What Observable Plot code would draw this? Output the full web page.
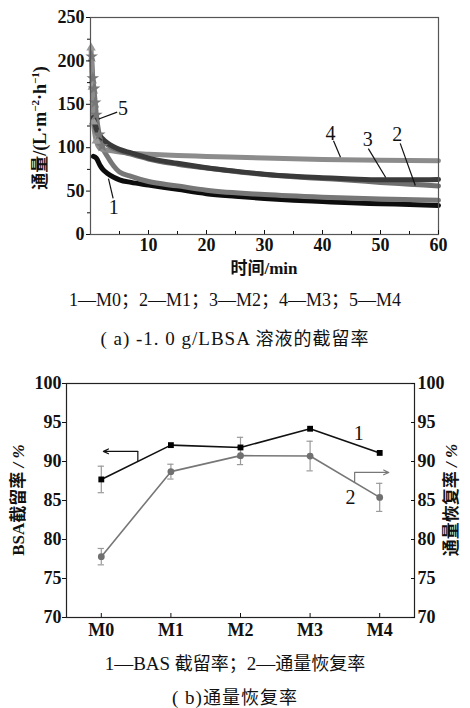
<!DOCTYPE html>
<html><head><meta charset="utf-8">
<script src="https://cdn.jsdelivr.net/npm/d3@7"></script>
<script src="https://cdn.jsdelivr.net/npm/@observablehq/plot@0.6"></script>
<style>
body{margin:0;background:#fff;}
#wrap{position:relative;width:470px;height:708px;overflow:hidden;background:#fff;font-family:"Liberation Serif","Noto Sans CJK SC",serif;color:#111;}
.cap{position:absolute;left:0;width:470px;text-align:center;font-size:19px;white-space:nowrap;line-height:20px;}
.cj{font-family:"Noto Sans CJK SC";font-size:18px;}
#a,#b{position:absolute;left:0;}
</style></head><body>
<div id="wrap">
<div id="a" style="top:0"></div>
<div class="cap" style="top:290px;font-size:18px">1—M0；2—M1；3—M2；4—M3；5—M4</div>
<div class="cap" style="top:327px;letter-spacing:1px">( a) -1. 0 g/LBSA <span class="cj">溶液的截留率</span></div>
<div id="b" style="top:360px"></div>
<div class="cap" style="top:652px">1—BAS <span class="cj">截留率；</span>2—<span class="cj">通量恢复率</span></div>
<div class="cap" style="top:686px;letter-spacing:1px">( b)<span class="cj">通量恢复率</span></div>
</div>
<script>
// ---- (a) flux vs time ----
const fluxSeries = ["1","2","3","4","5"];
const fluxColors = ["#0d0d0d","#6f6f6f","#3a3a3a","#8c8c8c","#777777"];
const t1 = [0.5,1,1.7,2,3,4,5,7,10,15,20,25,30,35,40,45,50,55,60];
const f1 = [90,88,79,76,70,66,63,60,57,52,47,44,41.5,39.5,38,36.5,35.5,34.5,33.5];
const t2 = [0.5,1,2,3,5,7,10,15,20,25,30,35,40,45,50,55,60];
const f2 = [130,119,109,103,96.5,92.5,87,81,76.5,72.5,69,66.5,64.5,62.5,60,58,56];
const t3 = [0.5,1,1.5,2,3,4,5,7,10,15,20,25,30,35,40,45,50,55,60];
const f3 = [135,122,115,111,105,101,98,94,88,82,77,73,69.5,67,65.5,64,63,63,63.5];
const t4 = [0.1,0.3,0.5,1,1.5,2,3,5,7,10,15,20,30,40,50,60];
const f4 = [215,170,130,108,100,98,97,95,93.5,92.5,91,90,88,86.5,85.5,85];
const t5 = [0.2,0.4,0.6,0.8,1,1.5,2,3,4,5,7,10,15,20,30,40,50,60];
const f5 = [205,180,168,152,138,115,102,89,79,72,67,61,56,51,46,43,41,39.5];
const fluxYTicks = [0,50,100,150,200,250];
const fluxYMinor = [25,75,125,175,225];
const fluxXTicks = [10,20,30,40,50,60];
const fluxXMinor = [5,15,25,35,45,55];
// curve labels and their leader lines
const fluxLabels = ["1","5","4","3","2"];
const fluxLabelPos = [[4.0,31],[5.6,145],[41.4,116],[47.8,109],[52.9,115]];
const fluxLeaders = [[3.9,41.5,3.1,64.5],[4.6,141,1.43,133],[41.9,108,43.1,89],[47.9,99,50.9,65.7],[53.4,105,56,56.5]];

const tArr = [t1,t2,t3,t4,t5], fArr = [f1,f2,f3,f4,f5];
const flux = [];
const drawOrder = [0,4,3,1,2];
for (const i of drawOrder) tArr[i].forEach((t,j)=>flux.push({s:fluxSeries[i], t, v:fArr[i][j]}));
const early5 = t5.slice(0,7).map((t,j)=>({t, v:f5[j]}));
const early4 = t4.slice(0,4).map((t,j)=>({t, v:f4[j]}));
const labA = fluxLabels.map((s,i)=>({s, x:fluxLabelPos[i][0], y:fluxLabelPos[i][1]}));
const leadA = fluxLeaders.map(d=>({x1:d[0],y1:d[1],x2:d[2],y2:d[3]}));

const axStyle = {fontSize:18, fontWeight:"bold"};
const plotA = Plot.plot({
  width:470, height:280, marginLeft:90, marginRight:32, marginTop:17, marginBottom:46,
  x:{domain:[0,60]}, y:{domain:[0,250]},
  color:{domain:fluxSeries, range:fluxColors},
  style:{fontFamily:"Liberation Serif", color:"#111", background:"white", overflow:"visible"},
  marks:[
    Plot.line(flux, {x:"t", y:"v", z:"s", stroke:"s", strokeWidth:5, curve:"monotone-x"}),
    Plot.dot(early4, {x:"t", y:"v", symbol:"triangle", r:3.5, fill:"#999"}),
    Plot.dot(early5, {x:"t", y:"v", symbol:"star", r:4, fill:"#777"}),
    Plot.link(leadA, {x1:"x1", y1:"y1", x2:"x2", y2:"y2", stroke:"#111", strokeWidth:1.2}),
    Plot.text(labA, {x:"x", y:"y", text:"s", fontSize:20, fill:"#111"}),
    Plot.frame({stroke:"#555", strokeWidth:1.2}),
    Plot.axisY(fluxYTicks, {anchor:"left", tickSize:4, tickPadding:2, label:null, ...axStyle}),
    Plot.axisY(fluxYMinor, {anchor:"left", tickSize:3, text:null, label:null}),
    Plot.axisX(fluxXTicks, {anchor:"bottom", tickSize:-4, tickPadding:8, label:null, ...axStyle}),
    Plot.axisX(fluxXMinor, {anchor:"bottom", tickSize:-3, text:null, label:null})
  ]
});
document.getElementById("a").appendChild(plotA);
{
  const s = d3.select(plotA);
  const yl = s.append("text").attr("transform","translate(46,128) rotate(-90)")
    .attr("text-anchor","middle").attr("font-size",18).attr("font-weight","bold")
    .attr("fill","#111").attr("font-family","Liberation Serif, Noto Sans CJK SC");
  yl.append("tspan").attr("font-family","Noto Sans CJK SC").attr("font-size",17).text("通量");
  yl.append("tspan").text("/(L·m");
  yl.append("tspan").attr("font-size",11).attr("dy",-7).text("−2");
  yl.append("tspan").attr("dy",7).text("·h");
  yl.append("tspan").attr("font-size",11).attr("dy",-7).text("−1");
  yl.append("tspan").attr("dy",7).text(")");
  const xl = s.append("text").attr("x",264).attr("y",274).attr("text-anchor","middle")
    .attr("font-size",17).attr("font-weight","bold").attr("fill","#111");
  xl.append("tspan").attr("font-family","Noto Sans CJK SC").text("时间");
  xl.append("tspan").attr("font-family","Liberation Serif").text("/min");
}

// ---- (b) retention & recovery ----
const membranes = ["M0","M1","M2","M3","M4"];
const retention = [87.7,92.1,91.8,94.2,91.1];
const retentionErr = [1.7,0,1.3,0,0];
const recovery = [77.8,88.7,90.75,90.7,85.4];
const recoveryErr = [1.05,0.95,1.15,1.9,1.8];
const pctTicks = [70,75,80,85,90,95,100];
// annotation arrows (x in membrane index, y in %)
const arrowLeft = [0.525,90.0,0.525,91.3,0.03];
const arrowRight = [3.64,87.3,3.64,88.6,4.13];
const seriesLabels = ["1","2"];
const seriesLabelPos = [[3.70,93.6],[3.58,85.4]];

const ret = membranes.map((m,i)=>({i, v:retention[i], e:retentionErr[i]}));
const rec = membranes.map((m,i)=>({i, v:recovery[i], e:recoveryErr[i]}));
const errs = [...ret.filter(d=>d.e>0), ...rec];
const capW = 0.045;
const labB = seriesLabels.map((s,k)=>({s, x:seriesLabelPos[k][0], y:seriesLabelPos[k][1]}));

const plotB = Plot.plot({
  width:470, height:290, marginLeft:66, marginRight:56, marginTop:23, marginBottom:33,
  x:{domain:[-0.5,4.5]}, y:{domain:[70,100]},
  style:{fontFamily:"Liberation Serif", color:"#111", background:"white", overflow:"visible"},
  marks:[
    Plot.ruleX(errs, {x:"i", y1:d=>d.v-d.e, y2:d=>d.v+d.e, stroke:"#9a9a9a", strokeWidth:1.2}),
    Plot.ruleY(errs, {y:d=>d.v-d.e, x1:d=>d.i-capW, x2:d=>d.i+capW, stroke:"#9a9a9a", strokeWidth:1.2}),
    Plot.ruleY(errs, {y:d=>d.v+d.e, x1:d=>d.i-capW, x2:d=>d.i+capW, stroke:"#9a9a9a", strokeWidth:1.2}),
    Plot.line(rec, {x:"i", y:"v", stroke:"#777", strokeWidth:1.6}),
    Plot.line(ret, {x:"i", y:"v", stroke:"#111", strokeWidth:1.6}),
    Plot.dot(rec, {x:"i", y:"v", r:3.4, fill:"#707070", symbol:"circle"}),
    Plot.dot(ret, {x:"i", y:"v", r:3.3, fill:"#000", symbol:"square"}),
    Plot.link([arrowLeft], {x1:d=>d[0], y1:d=>d[1], x2:d=>d[2], y2:d=>d[3], stroke:"#111", strokeWidth:1.2}),
    Plot.arrow([arrowLeft], {x1:d=>d[2], y1:d=>d[3], x2:d=>d[4], y2:d=>d[3], stroke:"#111", strokeWidth:1.2, headLength:7, headAngle:50}),
    Plot.link([arrowRight], {x1:d=>d[0], y1:d=>d[1], x2:d=>d[2], y2:d=>d[3], stroke:"#777", strokeWidth:1.2}),
    Plot.arrow([arrowRight], {x1:d=>d[2], y1:d=>d[3], x2:d=>d[4], y2:d=>d[3], stroke:"#777", strokeWidth:1.2, headLength:7, headAngle:50}),
    Plot.text(labB, {x:"x", y:"y", text:"s", fontSize:20, fill:"#111"}),
    Plot.frame({stroke:"#222", strokeWidth:1.2}),
    Plot.axisY(pctTicks, {anchor:"left", tickSize:4, tickPadding:1, label:null, ...axStyle}),
    Plot.axisY(pctTicks, {anchor:"right", tickSize:-4, tickPadding:7, label:null, ...axStyle}),
    Plot.axisX([0,1,2,3,4], {anchor:"bottom", tickSize:-4, tickPadding:10, tickFormat:i=>membranes[i], label:null, ...axStyle})
  ]
});
document.getElementById("b").appendChild(plotB);
{
  const s = d3.select(plotB);
  const l = s.append("text").attr("transform","translate(24,140) rotate(-90)")
    .attr("text-anchor","middle").attr("font-size",17).attr("font-weight","bold").attr("fill","#111");
  l.append("tspan").attr("font-family","Liberation Serif").text("BSA");
  l.append("tspan").attr("font-family","Noto Sans CJK SC").text("截留率");
  l.append("tspan").attr("font-family","Liberation Serif").attr("font-style","italic").text(" / %");
  const r = s.append("text").attr("transform","translate(457,140) rotate(-90)")
    .attr("text-anchor","middle").attr("font-size",17).attr("font-weight","bold").attr("fill","#111");
  r.append("tspan").attr("font-family","Noto Sans CJK SC").text("通量恢复率");
  r.append("tspan").attr("font-family","Liberation Serif").attr("font-style","italic").text(" / %");
}
</script>
</body></html>
